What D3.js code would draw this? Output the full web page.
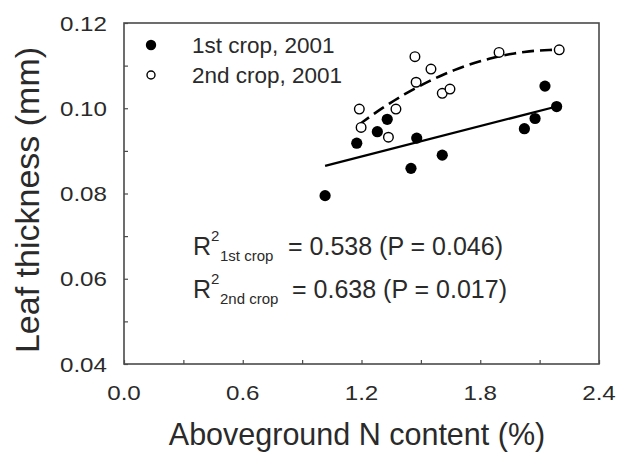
<!DOCTYPE html>
<html>
<head>
<meta charset="utf-8">
<script src="https://cdn.jsdelivr.net/npm/d3@7"></script>
<style>
  body { margin: 0; background: #fff; }
  svg { display: block; font-family: "Liberation Sans", Arial, sans-serif; }
</style>
</head>
<body>
<svg id="chart" width="617" height="458"></svg>
<script>
// data
const crop1N = [1.016, 1.176, 1.280, 1.330, 1.450, 1.479, 1.608, 2.023, 2.077, 2.127, 2.186];
const crop1Thick = [0.0795, 0.0918, 0.0945, 0.0974, 0.0859, 0.0930, 0.0890, 0.0952, 0.0976, 0.1052, 0.1004];
const crop2N = [1.189, 1.198, 1.336, 1.374, 1.470, 1.476, 1.551, 1.608, 1.647, 1.895, 2.199];
const crop2Thick = [0.0998, 0.0955, 0.0932, 0.0998, 0.1121, 0.1061, 0.1092, 0.1035, 0.1045, 0.1131, 0.1137];
// fitted trends: linear (1st crop), quadratic (2nd crop)
const fit1Coef = [0.07442, 0.011885];
const fit2Coef = [0.03018, 0.07618, -0.01737];
const xTicks = [0, 0.6, 1.2, 1.8, 2.4];
const xMinor = [0, 0.3, 0.6, 0.9, 1.2, 1.5, 1.8, 2.1, 2.4];
const yTicks = [0.04, 0.06, 0.08, 0.10, 0.12];
const yMinor = [0.04, 0.05, 0.06, 0.07, 0.08, 0.09, 0.10, 0.11, 0.12];
const seriesNames = ["1st crop, 2001", "2nd crop, 2001"];
const r2Labels = [
  { sub: "1st crop", text: "= 0.538 (P = 0.046)" },
  { sub: "2nd crop", text: "= 0.638 (P = 0.017)" }
];

const svg = d3.select("#chart");
const plotL = 124, plotR = 599, plotT = 23, plotB = 364;
const ink = "#2a2a2a", frame = "#4a4a4a";

const x = d3.scaleLinear().domain([0, 2.4]).range([plotL, plotR]);
const y = d3.scaleLinear().domain([0.04, 0.12]).range([plotB, plotT]);

// stretch text horizontally (the source font renders wide)
function widen(sel, k) {
  sel.each(function () {
    const w = this.getComputedTextLength();
    d3.select(this).attr("textLength", w * k).attr("lengthAdjust", "spacingAndGlyphs");
  });
}

// axes: inward minor ticks, labels separately
const xAxis = svg.append("g").attr("transform", `translate(0,${plotB})`)
  .call(d3.axisTop(x).tickValues(xMinor).tickSize(4).tickFormat(""));
const yAxis = svg.append("g").attr("transform", `translate(${plotL},0)`)
  .call(d3.axisRight(y).tickValues(yMinor).tickSize(4).tickFormat(""));
[xAxis, yAxis].forEach(a => {
  a.select(".domain").remove();
  a.selectAll("line").attr("stroke", frame).attr("stroke-width", 1.2);
});

svg.append("rect")
  .attr("x", plotL).attr("y", plotT)
  .attr("width", plotR - plotL).attr("height", plotB - plotT)
  .attr("fill", "none").attr("stroke", frame).attr("stroke-width", 1.6);

const xLab = svg.append("g").selectAll("text").data(xTicks).join("text")
  .attr("x", d => x(d)).attr("y", 400)
  .attr("text-anchor", "middle").attr("font-size", 21).attr("fill", ink)
  .text(d => d3.format(".1f")(d));
widen(xLab, 1.15);

const yLab = svg.append("g").selectAll("text").data(yTicks).join("text")
  .attr("x", 107).attr("y", d => y(d)).attr("dy", "0.36em")
  .attr("text-anchor", "end").attr("font-size", 21).attr("fill", ink)
  .text(d => d3.format(".2f")(d));
widen(yLab, 1.15);

svg.append("text")
  .attr("x", 357).attr("y", 445)
  .attr("text-anchor", "middle").attr("font-size", 30.5).attr("fill", ink)
  .text("Aboveground N content (%)");

svg.append("text")
  .attr("transform", "translate(39,200) rotate(-90)")
  .attr("text-anchor", "middle").attr("font-size", 34).attr("fill", ink)
  .text("Leaf thickness (mm)");

// trend lines
const line = d3.line().x(d => x(d[0])).y(d => y(d[1]));
const ext1 = d3.extent(crop1N);
svg.append("path")
  .attr("d", line(ext1.map(v => [v, fit1Coef[0] + fit1Coef[1] * v])))
  .attr("fill", "none").attr("stroke", "#000").attr("stroke-width", 2.2);

const ext2 = d3.extent(crop2N);
const curveX = d3.range(0, 41).map(i => ext2[0] + (ext2[1] - ext2[0]) * i / 40);
svg.append("path")
  .attr("d", line(curveX.map(v => [v, fit2Coef[0] + fit2Coef[1] * v + fit2Coef[2] * v * v])))
  .attr("fill", "none").attr("stroke", "#000").attr("stroke-width", 2.6)
  .attr("stroke-dasharray", "12,6");

// points
svg.append("g").selectAll("circle").data(crop2N).join("circle")
  .attr("cx", d => x(d)).attr("cy", (d, i) => y(crop2Thick[i])).attr("r", 4.8)
  .attr("fill", "#fff").attr("stroke", "#000").attr("stroke-width", 1.4);
svg.append("g").selectAll("circle").data(crop1N).join("circle")
  .attr("cx", d => x(d)).attr("cy", (d, i) => y(crop1Thick[i])).attr("r", 5.6)
  .attr("fill", "#000");

// legend
const legend = svg.append("g");
legend.append("circle").attr("cx", 151).attr("cy", 45).attr("r", 5.2).attr("fill", "#000");
legend.append("circle").attr("cx", 151).attr("cy", 75).attr("r", 4).attr("fill", "#fff")
  .attr("stroke", "#000").attr("stroke-width", 1.4);
legend.selectAll("text").data(seriesNames).join("text")
  .attr("x", 192).attr("y", (d, i) => 53 + i * 30)
  .attr("font-size", 22.5).attr("fill", ink)
  .text(d => d);

// R² annotations
const r2 = svg.append("g").selectAll("text").data(r2Labels).join("text")
  .attr("x", 193).attr("y", (d, i) => 255 + i * 43)
  .attr("fill", ink);
r2.append("tspan").attr("font-size", 25).text("R");
r2.append("tspan").attr("font-size", 15).attr("dy", -14).text("2");
r2.append("tspan").attr("font-size", 15).attr("x", 220).attr("dy", 20).text(d => d.sub);
r2.append("tspan").attr("font-size", 25).attr("x", (d, i) => 288 + i * 4).attr("dy", -6).text(d => d.text);
</script>
</body>
</html>
